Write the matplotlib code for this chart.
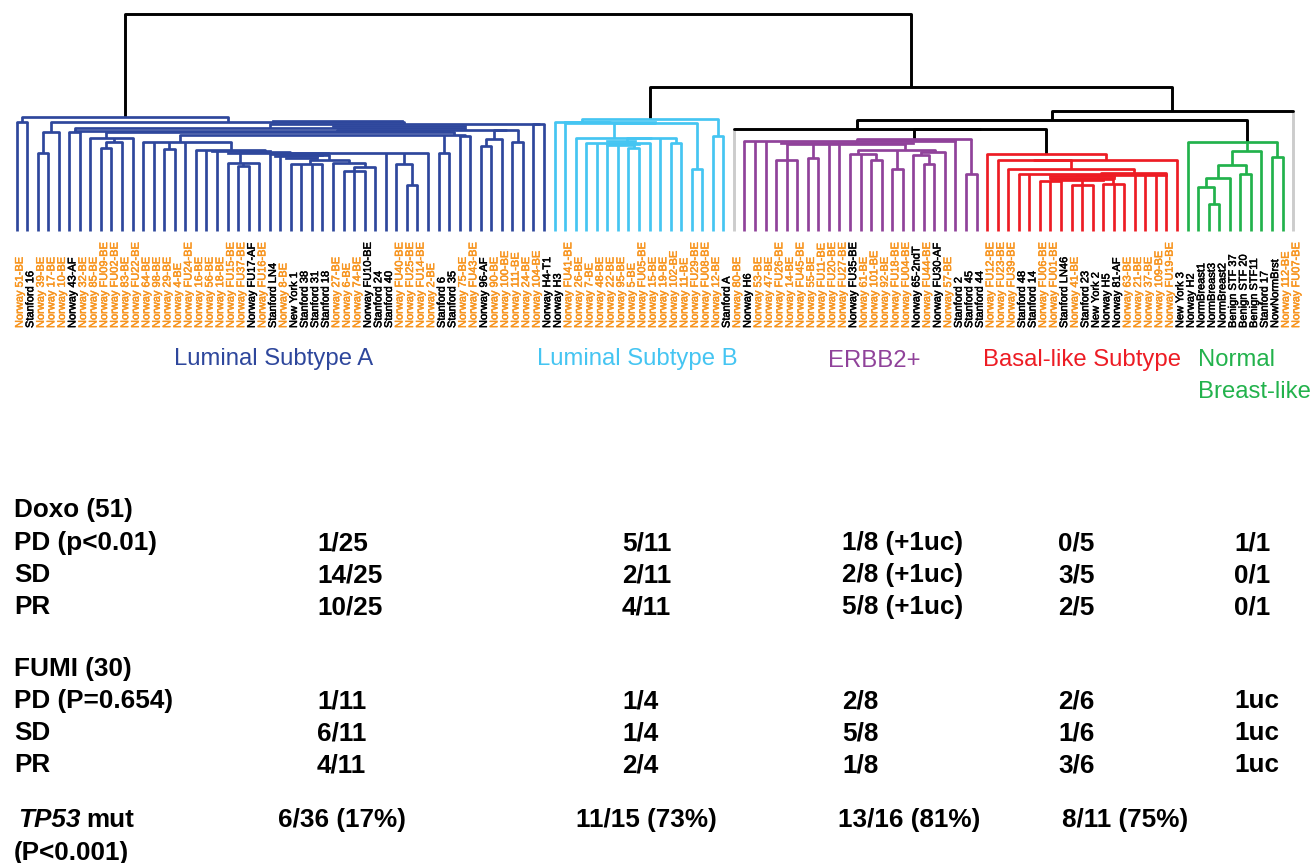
import matplotlib
matplotlib.use("Agg")
import matplotlib.pyplot as plt
import matplotlib.patheffects as pe

plt.rcParams["font.family"] = ["Liberation Sans", "DejaVu Sans"]

# sample names, left to right along the tree
leaf_names = [
    "Norway 51-BE", "Stanford 16", "Norway 39-BE", "Norway 17-BE", "Norway 10-BE", "Norway 43-AF",
    "Norway 32-BE", "Norway 85-BE", "Norway FU09-BE", "Norway FU02-BE", "Norway 83-BE", "Norway FU22-BE",
    "Norway 64-BE", "Norway 98-BE", "Norway 29-BE", "Norway 4-BE", "Norway FU24-BE", "Norway 16-BE",
    "Norway 56-BE", "Norway 18-BE", "Norway FU15-BE", "Norway FU37-BE", "Norway FU17-AF", "Norway FU16-BE",
    "Stanford LN4", "Norway 8-BE", "New York 1", "Stanford 38", "Stanford 31", "Stanford 18",
    "Norway 27-BE", "Norway 6-BE", "Norway 74-BE", "Norway FU10-BE", "Stanford 24", "Stanford 40",
    "Norway FU40-BE", "Norway FU25-BE", "Norway FU14-BE", "Norway 2-BE", "Stanford 6", "Stanford 35",
    "Norway 75-BE", "Norway FU43-BE", "Norway 96-AF", "Norway 90-BE", "Norway 100-BE", "Norway 111-BE",
    "Norway 24-BE", "Norway 104-BE", "Norway H4-T1", "Norway H3", "Norway FU41-BE", "Norway 26-BE",
    "Norway 7-BE", "Norway 48-BE", "Norway 22-BE", "Norway 95-BE", "Norway 5-BE", "Norway FU05-BE",
    "Norway 15-BE", "Norway 19-BE", "Norway 102-BE", "Norway 11-BE", "Norway FU29-BE", "Norway FU08-BE",
    "Norway 12-BE", "Stanford A", "Norway 80-BE", "Norway H6", "Norway 53-BE", "Norway 47-BE",
    "Norway FU26-BE", "Norway 14-BE", "Norway FU45-BE", "Norway 55-BE", "Norway FU11-BE", "Norway FU20-BE",
    "Norway FU27-BE", "Norway FU35-BE", "Norway 61-BE", "Norway 101-BE", "Norway 92-BE", "Norway FU18-BE",
    "Norway FU04-BE", "Norway 65-2ndT", "Norway FU44-BE", "Norway FU30-AF", "Norway 57-BE", "Stanford 2",
    "Stanford 45", "Stanford 44", "Norway FU12-BE", "Norway FU23-BE", "Norway FU39-BE", "Stanford 48",
    "Stanford 14", "Norway FU06-BE", "Norway FU01-BE", "Stanford LN46", "Norway 41-BE", "Stanford 23",
    "New York 2", "Norway H5", "Norway 81-AF", "Norway 63-BE", "Norway 21-BE", "Norway 37-BE",
    "Norway 109-BE", "Norway FU19-BE", "New York 3", "Norway H2", "NormBreast1", "NormBreast3",
    "NormBreast2", "Benign STF 37", "Benign STF 20", "Benign STF11", "Stanford 17", "NowNormBrst",
    "Norway 112-BE", "Norway FU07-BE",
]
black_be_names = ["Norway FU10-BE", "Norway FU35-BE"]
grey_leaves = [68, 121]


def merge(h, *kids, at=None, color=None):
    return {"h": h, "kids": kids, "at": at, "color": color}


# Luminal A
blue_c = merge(64.5, merge(60.5, 31, 32, 33), 34)
blue_g24 = merge(77.5, 24, merge(76, 25, merge(71, merge(67, 26, 27, 28, 29, at=27.8), merge(68.5, 30, blue_c))))
blue_g = merge(78.5, blue_g24, 35, merge(67.5, 36, merge(46, 37, 38)), 39, at=25.9)
blue_s20 = merge(68.5, 20, merge(65.5, 21, 22), 23, at=21.2)
blue_q = merge(81, 17, 18, 19, merge(79.5, blue_s20, blue_g), at=20.35)
blue_p = merge(89.5, 12, 13, merge(82.5, 14, 15), 16, blue_q, at=15.5)
blue_g7 = merge(93.5, 7, merge(89.5, merge(83.5, 8, 9), 10), 11, at=8.5)
blue_k3 = merge(96, blue_p, merge(78.5, 40, 41), merge(95, 42, 43), at=41.5)
blue_k2 = merge(98.5, blue_g7, blue_k3, at=30.4)
blue_ab = merge(100.5, merge(92, merge(85.5, 44, 45), 46), merge(89.5, 47, 48))
blue_y = merge(101, blue_k2, blue_ab, at=42.5)
blue_x = merge(102.5, merge(98.5, 5, 6), blue_y)
luminal_a = merge(113.5, merge(108.5, 0, 1),
                  merge(109, merge(98.5, merge(78.5, 2, 3), 4), merge(107, blue_x, merge(107, 49, 50))),
                  color="#2E479C")

# Luminal B
cyan_t4 = merge(86, 56, 57, merge(83.5, 58, 59))
cyan_t3 = merge(88.5, 54, 55, cyan_t4, 60, at=57.86)
cyan_t = merge(93.5, 53, merge(93, cyan_t3, 61, merge(88.5, 62, 63)))
luminal_b = merge(112, merge(108.5, 51, merge(108, 52, merge(107.5, cyan_t, merge(62.5, 64, 65)))),
                  merge(95, 66, 67), color="#45C5F2")

# ERBB2+
pur_h1 = merge(77.5, 79, 80, merge(71, 81, 82), at=79.8)
pur_h2 = merge(79.5, merge(76, 85, merge(67, 86, 87)), 88, at=87.1)
pur_h = merge(81, pur_h1, merge(62.5, 83, 84), pur_h2, at=84.2)
pur_band = merge(87.5, merge(71, 72, 73, 74), merge(73.5, 75, 76), 77, 78, pur_h, at=79.6)
pur_core = merge(90, 69, 70, 71, pur_band, 89, at=79.65)
erbb2 = merge(92.5, pur_core, merge(57.5, 90, 91), color="#90429A")

# Basal-like
red_left = merge(50, 97, 98, 99, at=98.1)
red_mid = merge(46, 100, 101, 102)
red_right = merge(47.5, 103, 104, 105, at=103.9)
red_core = merge(52.5, red_left, red_mid, red_right, at=102.5)
red_z = merge(58.5, merge(57, 95, 96, red_core, 106, 107, 108, at=102.8), 109)
basal = merge(77, 92, merge(71, merge(71.5, 93, merge(62.5, 94, red_z)), 110), color="#ED1C24")

# Normal breast-like
green_k = merge(66, merge(53.5, merge(44.5, 112, merge(27, 113, 114)), 115), merge(57.5, 116, 117))
normal = merge(89.5, 111, merge(80.5, green_k, 118), merge(74.5, 119, 120), at=116.6, color="#22B24C")

# black joins above the five groups
tree = merge(217, luminal_a,
             merge(144, luminal_b,
                   merge(120, merge(111, merge(101.7, 68, merge(101.7, erbb2, basal)), normal), 121)),
             color="black")

# near-tied merges that read as one thick band: colour, height, first leaf, last leaf
near_ties = [
    ("#2E479C", 110, 24.3, 36.5), ("#2E479C", 104.5, 30, 42.5), ("#2E479C", 100, 5.5, 41),
    ("#2E479C", 80, 18.5, 24), ("#2E479C", 76, 25.5, 29), ("#2E479C", 73, 25.5, 28.5),
    ("#2E479C", 78, 20, 29.5), ("#2E479C", 75, 24.5, 28.5),
    ("#45C5F2", 90.5, 56, 58.6), ("#45C5F2", 87, 56, 59), ("#45C5F2", 109, 52, 60.5),
    ("#90429A", 88.5, 72.5, 85), ("#90429A", 91, 81, 89),
    ("#ED1C24", 55, 98, 104), ("#ED1C24", 56.5, 100.5, 109), ("#ED1C24", 53, 98, 104), ("#ED1C24", 51, 98.5, 103),
]

group_names = ["Luminal Subtype A", "Luminal Subtype B", "ERBB2+", "Basal-like Subtype", "Normal", "Breast-like"]
group_colors = ["#2E479C", "#45C5F2", "#90429A", "#ED1C24", "#22B24C", "#22B24C"]
group_x = [174, 537, 828, 983, 1198, 1198]
group_y = [365, 365, 367, 366, 366, 398]

row_names = ["Doxo (51)", "PD (p<0.01)", "SD", "PR", "FUMI (30)", "PD (P=0.654)", "SD", "PR"]
row_y = [517, 550, 582, 614, 676, 708, 740, 772]
col_x = [317, 622, 842, 1058, 1234]
table_rows = {
    550: ["1/25", "5/11", "1/8 (+1uc)", "0/5", "1/1"],
    582: ["14/25", "2/11", "2/8 (+1uc)", "3/5", "0/1"],
    614: ["10/25", "4/11", "5/8 (+1uc)", "2/5", "0/1"],
    708: ["1/11", "1/4", "2/8", "2/6", "1uc"],
    740: ["6/11", "1/4", "5/8", "1/6", "1uc"],
    772: ["4/11", "2/4", "1/8", "3/6", "1uc"],
}
tp53_values = ["6/36 (17%)", "11/15 (73%)", "13/16 (81%)", "8/11 (75%)"]
tp53_x = [278, 576, 838, 1062]

W, H = 1313, 863
LEAF0, LEAF_STEP, BASE_Y = 16.5, 10.55, 231
BOLD = 18.8

fig = plt.figure(figsize=(W / 100, H / 100), dpi=100)
ax = fig.add_axes([0, 0, 1, 1])
ax.set_xlim(-LEAF0 / LEAF_STEP, (W - LEAF0) / LEAF_STEP)
ax.set_ylim(BASE_Y - H, BASE_Y)
ax.axis("off")

txt = fig.add_axes([0, 0, 1, 1])
txt.set_xlim(0, W)
txt.set_ylim(H, 0)
txt.axis("off")
txt.patch.set_alpha(0)


def pos(node):
    if isinstance(node, int):
        return float(node)
    if node["at"] is not None:
        return node["at"]
    return (pos(node["kids"][0]) + pos(node["kids"][-1])) / 2


def draw(node, color="black"):
    color = node["color"] or color
    xs = [pos(k) for k in node["kids"]]
    lw = 2.1 if color == "black" else 1.95
    ax.plot([xs[0], xs[-1]], [node["h"], node["h"]], color=color, lw=lw, solid_capstyle="round", zorder=3)
    for kid, x in zip(node["kids"], xs):
        if isinstance(kid, int):
            c = "#CCCCCC" if kid in grey_leaves else color
            ax.plot([x, x], [0, node["h"]], color=c, lw=lw, solid_capstyle="butt", zorder=2)
        else:
            ax.plot([x, x], [kid["h"], node["h"]], color=color, lw=lw, solid_capstyle="butt", zorder=2)
            draw(kid, color)


draw(tree)

for color, h, a, b in near_ties:
    ax.plot([a, b], [h, h], color=color, lw=1.95, zorder=3)

for i, name in enumerate(leaf_names):
    black = not name.endswith("-BE") or name in black_be_names
    color = "black" if black else "#F7941E"
    t = ax.text(i + 0.3, BASE_Y - 328, name, rotation=90, ha="center", va="bottom", fontsize=7.95, color=color)
    # the reference labels look heavier than plain regular weight
    t.set_path_effects([pe.withStroke(linewidth=0.35, foreground=color)])

for name, color, x, y in zip(group_names, group_colors, group_x, group_y):
    txt.text(x, y, name, color=color, fontsize=17.2, ha="left", va="baseline")

for name, y in zip(row_names, row_y):
    txt.text(14, y, name, fontsize=BOLD, fontweight="bold", ha="left", va="baseline")

for y, values in table_rows.items():
    for x, v in zip(col_x, values):
        txt.text(x, y, v, fontsize=BOLD, fontweight="bold", ha="left", va="baseline")

txt.text(18, 827, "TP53", fontsize=BOLD, fontweight="bold", fontstyle="italic", ha="left", va="baseline")
txt.text(86, 827, "mut", fontsize=BOLD, fontweight="bold", ha="left", va="baseline")
txt.text(14, 860, "(P<0.001)", fontsize=BOLD, fontweight="bold", ha="left", va="baseline")
for x, v in zip(tp53_x, tp53_values):
    txt.text(x, 827, v, fontsize=BOLD, fontweight="bold", ha="left", va="baseline")

fig.savefig("out.png", dpi=100, facecolor="white")
